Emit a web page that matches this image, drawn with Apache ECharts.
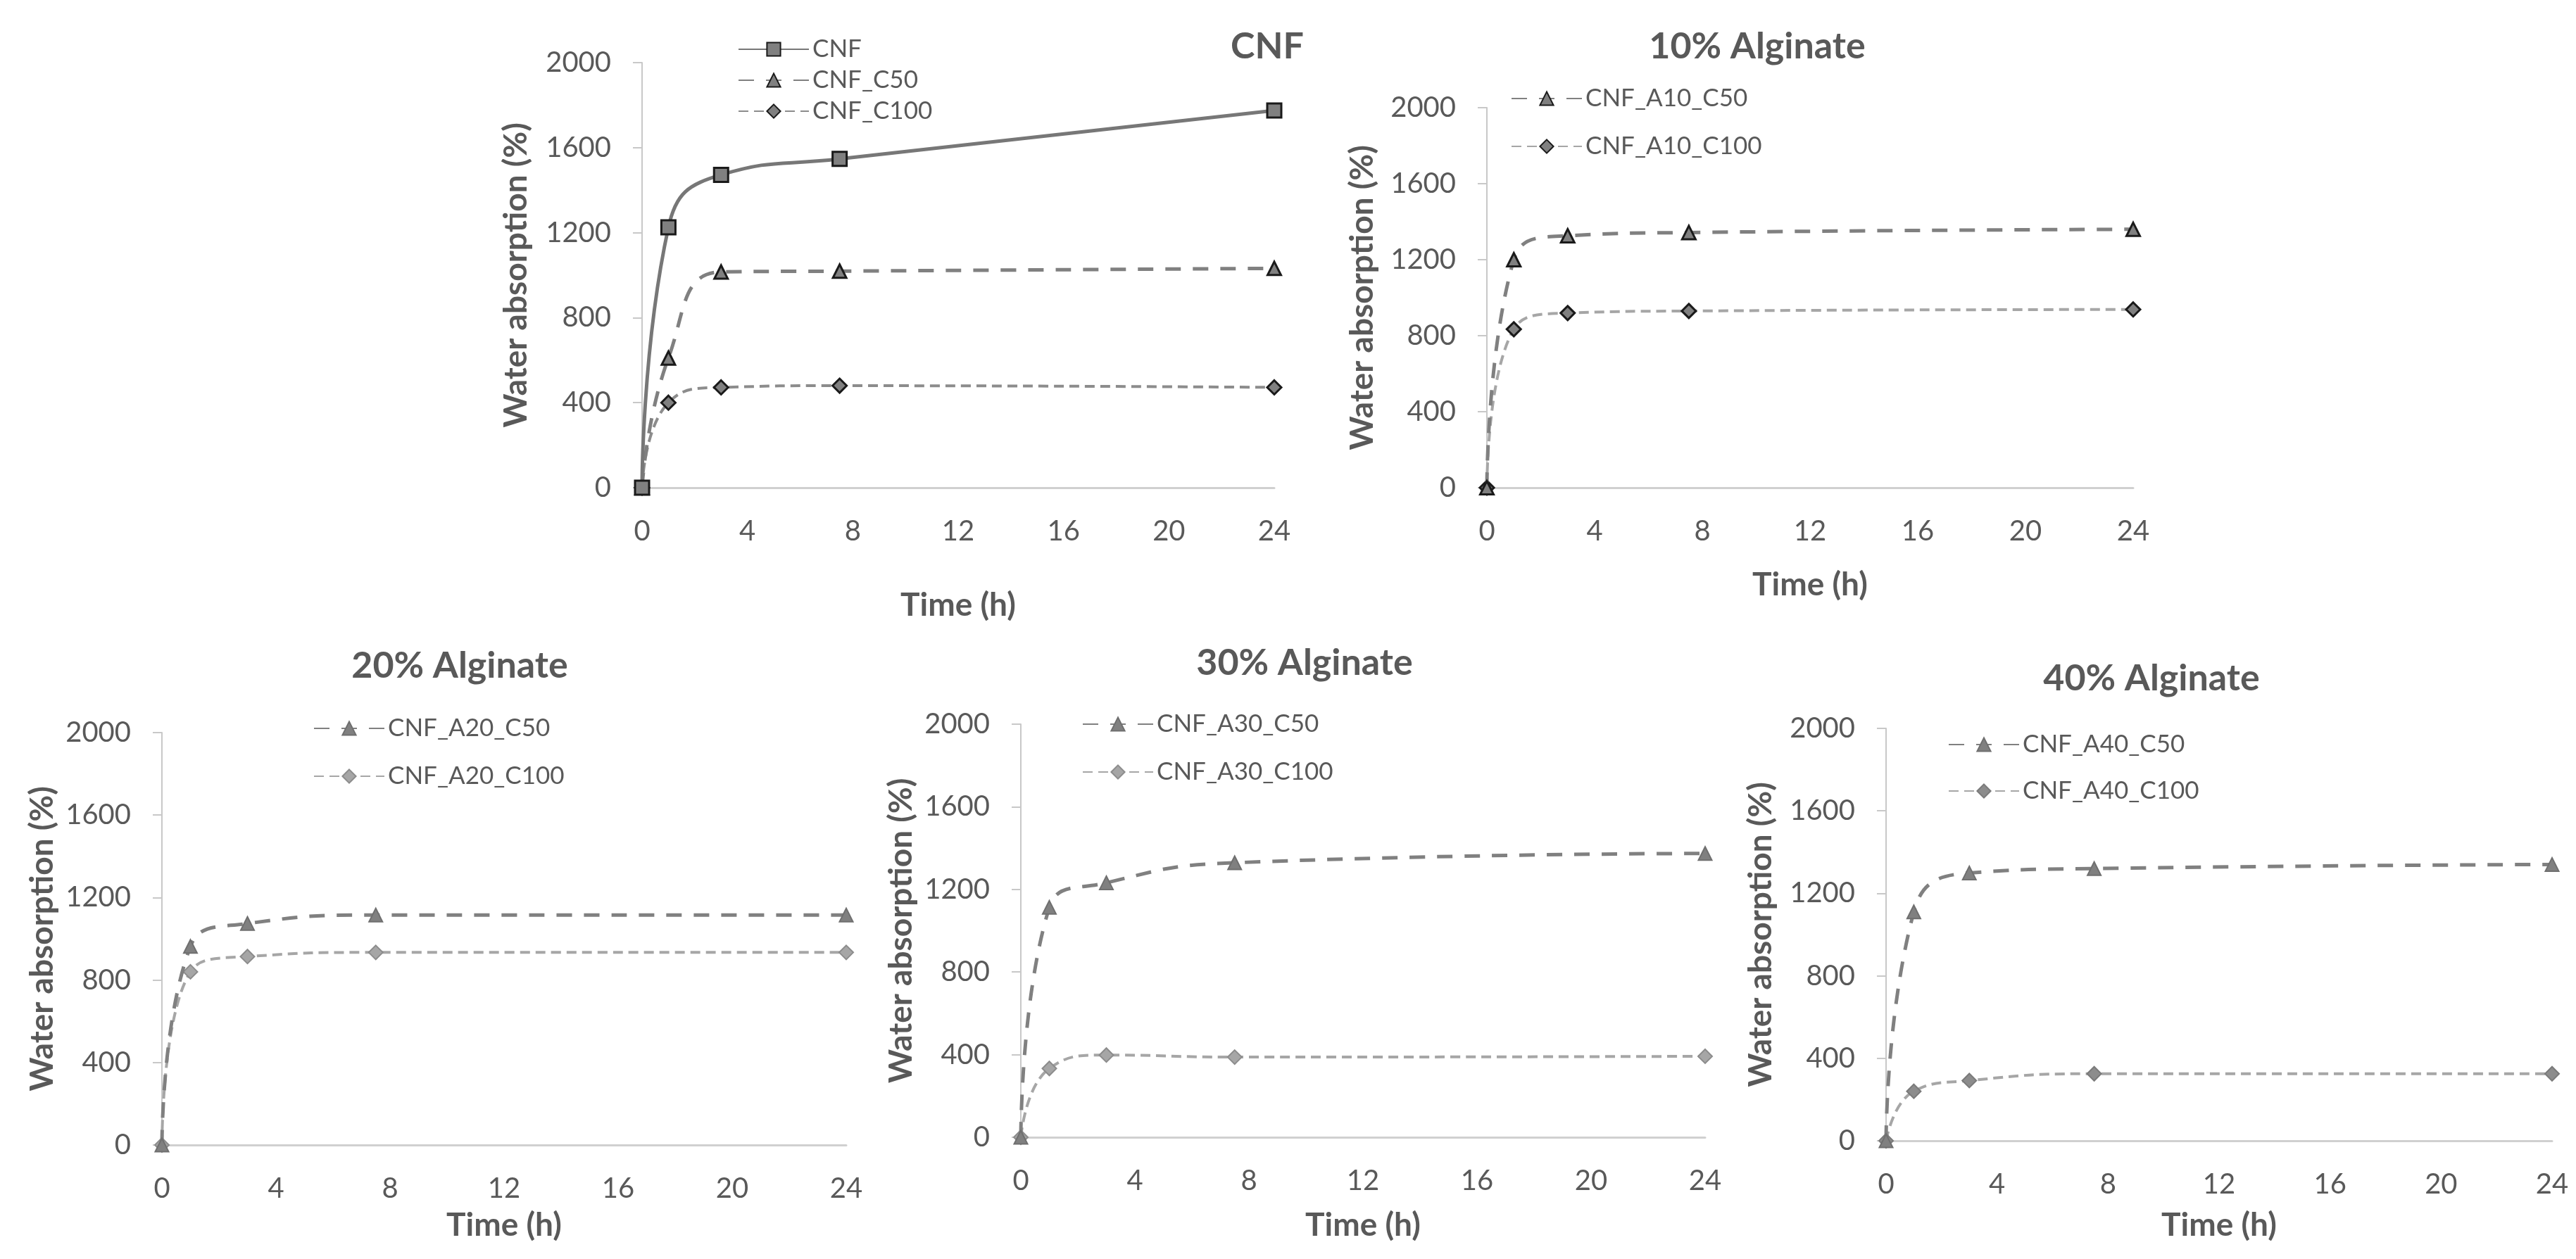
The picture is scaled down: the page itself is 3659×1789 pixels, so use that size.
<!DOCTYPE html>
<html>
<head>
<meta charset="utf-8">
<title>Water absorption</title>
<script src="https://cdn.jsdelivr.net/npm/echarts@6/dist/echarts.min.js"></script>
<style>
  html, body { margin: 0; padding: 0; background: #fff; }
  #chart { width: 3659px; height: 1789px; }
</style>
</head>
<body>
<div id="chart"></div>
<script>
// sampling times (h)
const hours = [0, 1, 3, 7.5, 24];

// water absorption (%)
const cnf = [0, 1225, 1472, 1547, 1775];
const cnfC50 = [0, 610, 1015, 1019, 1032];
const cnfC100 = [0, 400, 472, 480, 472];
const a10C50 = [0, 1200, 1326, 1343, 1360];
const a10C100 = [0, 834, 919, 930, 938];
const a20C50 = [0, 963, 1074, 1115, 1115];
const a20C100 = [0, 840, 914, 934, 934];
const a30C50 = [0, 1113, 1232, 1329, 1374];
const a30C100 = [0, 333, 398, 388, 392];
const a40C50 = [0, 1110, 1299, 1320, 1340];
const a40C100 = [0, 240, 292, 325, 325];

const panelTitles = ["CNF", "10% Alginate", "20% Alginate", "30% Alginate", "40% Alginate"];
const xTitle = "Time (h)";
const yTitle = "Water absorption (%)";

const FONT = "Lato";
const TEXT = "#595959";

// panel boxes in px: plot area, title, legend, axis name gaps
const panels = [
  { left: 912, top: 89, width: 898, height: 604, title: [1800, 40], legend: [1048, 52, 8], xGap: 144, yGap: 156 },
  { left: 2112, top: 153, width: 918, height: 540, title: [2496, 40], legend: [2146, 122, 32], xGap: 115, yGap: 154 },
  { left: 230, top: 1041, width: 972, height: 586, title: [653, 920], legend: [445, 1017, 32], xGap: 91, yGap: 147 },
  { left: 1450, top: 1029, width: 972, height: 587, title: [1853, 916], legend: [1537, 1011, 32], xGap: 102, yGap: 147 },
  { left: 2679, top: 1035, width: 946, height: 586, title: [3056, 938], legend: [2767, 1040, 30], xGap: 97, yGap: 155 }
];

const solid = { color: "#777777", type: "solid", width: 5 };
const longDash = { color: "#808080", type: [22, 17], width: 5 };
const shortDash = { color: "#8c8c8c", type: [14, 8], width: 4 };
const shortDashLight = { color: "#a6a6a6", type: [14, 8], width: 4 };

const darkEdge = { color: "#808080", borderColor: "#1a1a1a", borderWidth: 3 };
const greyTri = { color: "#808080", borderColor: "#6f6f6f", borderWidth: 2 };
const greyDia = { color: "#a6a6a6", borderColor: "#8c8c8c", borderWidth: 2 };
const greyDiaDark = { color: "#8c8c8c", borderColor: "#7a7a7a", borderWidth: 2 };

function line(name, values, idx, symbol, size, lineStyle, itemStyle, z) {
  return {
    type: "line",
    name: name,
    xAxisIndex: idx,
    yAxisIndex: idx,
    data: hours.map((h, i) => [h, values[i]]),
    smooth: 0.5,
    symbol: symbol,
    symbolSize: size,
    showSymbol: true,
    lineStyle: lineStyle,
    itemStyle: itemStyle,
    z: z,
    animation: false
  };
}

const series = [
  line("CNF_C100", cnfC100, 0, "diamond", 20, shortDash, darkEdge, 2),
  line("CNF_C50", cnfC50, 0, "triangle", 19, longDash, darkEdge, 3),
  line("CNF", cnf, 0, "rect", 20, solid, darkEdge, 4),
  line("CNF_A10_C100", a10C100, 1, "diamond", 20, shortDashLight, darkEdge, 2),
  line("CNF_A10_C50", a10C50, 1, "triangle", 19, longDash, darkEdge, 3),
  line("CNF_A20_C100", a20C100, 2, "diamond", 20, shortDashLight, greyDia, 2),
  line("CNF_A20_C50", a20C50, 2, "triangle", 19, longDash, greyTri, 3),
  line("CNF_A30_C100", a30C100, 3, "diamond", 20, shortDashLight, greyDia, 2),
  line("CNF_A30_C50", a30C50, 3, "triangle", 19, longDash, greyTri, 3),
  line("CNF_A40_C100", a40C100, 4, "diamond", 20, shortDashLight, greyDiaDark, 2),
  line("CNF_A40_C50", a40C50, 4, "triangle", 19, longDash, greyTri, 3)
];

const legendNames = [
  ["CNF", "CNF_C50", "CNF_C100"],
  ["CNF_A10_C50", "CNF_A10_C100"],
  ["CNF_A20_C50", "CNF_A20_C100"],
  ["CNF_A30_C50", "CNF_A30_C100"],
  ["CNF_A40_C50", "CNF_A40_C100"]
];

const option = {
  backgroundColor: "#ffffff",
  animation: false,
  title: panels.map((p, i) => ({
    text: panelTitles[i],
    left: p.title[0],
    top: p.title[1],
    textAlign: "center",
    padding: 0,
    textStyle: { fontFamily: FONT, fontSize: 52, fontWeight: "bold", color: TEXT }
  })),
  legend: panels.map((p, i) => ({
    data: legendNames[i],
    orient: "vertical",
    left: p.legend[0],
    top: p.legend[1],
    itemGap: p.legend[2],
    itemWidth: 100,
    itemHeight: 24,
    padding: 0,
    selectedMode: false,
    textStyle: { fontFamily: FONT, fontSize: 35, lineHeight: 36, color: TEXT }
  })),
  grid: panels.map(p => ({
    left: p.left, top: p.top, width: p.width, height: p.height,
    outerBoundsMode: "none"
  })),
  xAxis: panels.map((p, i) => ({
    type: "value",
    gridIndex: i,
    min: 0,
    max: 24,
    interval: 4,
    name: xTitle,
    nameLocation: "middle",
    nameGap: p.xGap,
    nameTextStyle: { fontFamily: FONT, fontSize: 46, fontWeight: "bold", color: TEXT },
    axisLine: { show: true, onZero: false, lineStyle: { color: "#d0d0d0", width: 3 } },
    axisTick: { show: false },
    splitLine: { show: false },
    axisLabel: { margin: 42, fontFamily: FONT, fontSize: 40, color: TEXT, formatter: v => String(v) }
  })),
  yAxis: panels.map((p, i) => ({
    type: "value",
    gridIndex: i,
    min: 0,
    max: 2000,
    interval: 400,
    name: yTitle,
    nameLocation: "middle",
    nameGap: p.yGap,
    nameTextStyle: { fontFamily: FONT, fontSize: 46, fontWeight: "bold", color: TEXT },
    axisLine: { show: true, lineStyle: { color: "#c8c8c8", width: 2 } },
    axisTick: { show: true, inside: false, length: 13, lineStyle: { color: "#c8c8c8", width: 2 } },
    splitLine: { show: false },
    axisLabel: { margin: 44, fontFamily: FONT, fontSize: 40, color: TEXT, formatter: v => String(v) }
  })),
  series: series
};

const myChart = echarts.init(document.getElementById("chart"));
myChart.setOption(option);
</script>
</body>
</html>
